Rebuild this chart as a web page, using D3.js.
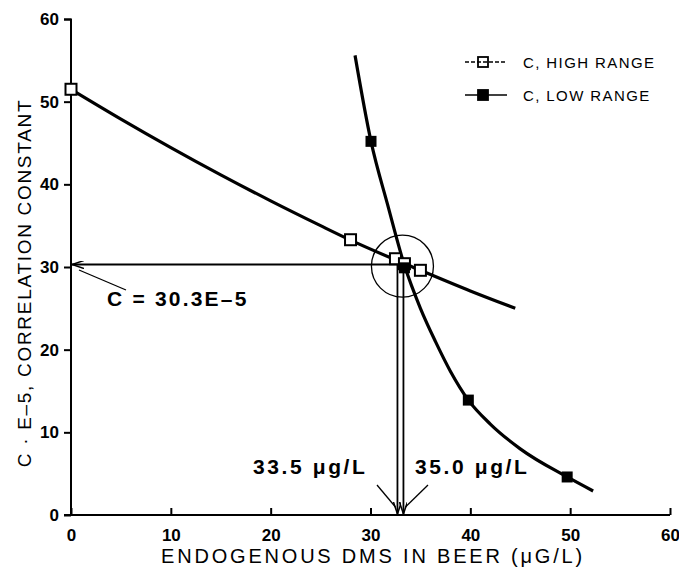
<!DOCTYPE html>
<html><head><meta charset="utf-8">
<script src="https://cdn.jsdelivr.net/npm/d3@7"></script>
<style>body{margin:0;background:#fff}svg{display:block}</style>
</head><body>
<svg id="c" width="679" height="577"></svg>
<script>
// ---- data ----
const xTicks = [0, 10, 20, 30, 40, 50, 60];
const yTicks = [0, 10, 20, 30, 40, 50, 60];
const highX = [0, 28, 32.5, 33.4, 35];
const highY = [51.5, 33.3, 31.0, 30.4, 29.6];
const lowX = [30.05, 33.4, 39.8, 49.7];
const lowY = [45.2, 29.9, 13.9, 4.6];
// fitted curves
const highFitX = [0, 5, 10, 15, 20, 25, 28, 35, 40, 44.5];
const highFitY = [51.5, 47.9, 44.45, 41.15, 38.0, 35.0, 33.25, 29.6, 27.1, 25.0];
const lowFitX = [28.45, 30.05, 31.7, 33.4, 35, 36.5, 38, 39.8, 42, 45, 49.7, 52.3];
const lowFitY = [55.6, 45.2, 37.6, 30.2, 25.0, 21.0, 17.4, 13.9, 11.0, 8.0, 4.6, 2.9];
const cValue = 30.3;
const arrowX = [32.7, 33.3];
const legendLabels = ["C, HIGH RANGE", "C, LOW RANGE"];

const font = "Liberation Sans, Arial, sans-serif";
const svg = d3.select("#c");
const x = d3.scaleLinear().domain([0, 60]).range([71, 670]);
const y = d3.scaleLinear().domain([0, 60]).range([515, 19]);

const defs = svg.append("defs");
defs.append("marker").attr("id", "ah").attr("viewBox", "0 0 12 8")
  .attr("refX", 12).attr("refY", 4).attr("markerWidth", 12).attr("markerHeight", 8)
  .attr("markerUnits", "userSpaceOnUse").attr("orient", "auto")
  .append("path").attr("d", "M0,0 L12,4 L0,8").attr("fill", "none").attr("stroke", "#000").attr("stroke-width", 1.5);

// axes
const xAxis = d3.axisBottom(x).tickValues(xTicks).tickSize(-7).tickPadding(14).tickFormat(d3.format("d"));
const yAxis = d3.axisLeft(y).tickValues(yTicks).tickSize(7).tickPadding(5).tickFormat(d3.format("d"));
const gx = svg.append("g").attr("transform", "translate(0,515)").call(xAxis);
const gy = svg.append("g").attr("transform", "translate(71,0)").call(yAxis);
[gx, gy].forEach(g => {
  g.select(".domain").attr("stroke-width", 2);
  g.selectAll(".tick line").attr("stroke-width", 2);
  g.selectAll("text").attr("font-family", font)
    .attr("font-weight", "bold").attr("font-size", 17).attr("fill", "#000");
});
gx.select(".domain").attr("d", "M64,0H670");
gy.select(".domain").attr("d", "M-7,19.5H0V515");

// axis titles
svg.append("text").attr("x", 373).attr("y", 563).attr("text-anchor", "middle")
  .attr("font-family", font).attr("font-size", 20)
  .attr("letter-spacing", 2.8).text("ENDOGENOUS DMS IN BEER (\u03BCG/L)");
svg.append("text").attr("transform", "translate(31,283) rotate(-90)").attr("text-anchor", "middle")
  .attr("font-family", font).attr("font-size", 19)
  .attr("letter-spacing", 1.7).text("C \u00B7 E\u20135, CORRELATION CONSTANT");

// curves
const line = d3.line().x(d => x(d[0])).y(d => y(d[1])).curve(d3.curveMonotoneX);
svg.append("path").attr("d", line(highFitX.map((v, i) => [v, highFitY[i]])))
  .attr("fill", "none").attr("stroke", "#000").attr("stroke-width", 3.2);
svg.append("path").attr("d", line(lowFitX.map((v, i) => [v, lowFitY[i]])))
  .attr("fill", "none").attr("stroke", "#000").attr("stroke-width", 3.2);

// circle
svg.append("circle").attr("cx", x(33.2)).attr("cy", y(30.1)).attr("r", 31)
  .attr("fill", "none").attr("stroke", "#000").attr("stroke-width", 1.3);

// horizontal arrow to y axis
svg.append("line").attr("x1", x(33.3)).attr("x2", x(0) + 1).attr("y1", y(cValue)).attr("y2", y(cValue))
  .attr("stroke", "#000").attr("stroke-width", 1.8).attr("marker-end", "url(#ah)");
// vertical arrows
arrowX.forEach(v => {
  svg.append("line").attr("x1", x(v)).attr("x2", x(v)).attr("y1", y(cValue)).attr("y2", y(0) - 1)
    .attr("stroke", "#000").attr("stroke-width", 1.8).attr("marker-end", "url(#ah)");
});

// markers
const sq = 11;
svg.append("g").selectAll("rect").data(highX.map((v, i) => [v, highY[i]])).join("rect")
  .attr("x", d => x(d[0]) - sq / 2).attr("y", d => y(d[1]) - sq / 2).attr("width", sq).attr("height", sq)
  .attr("fill", "#fff").attr("stroke", "#000").attr("stroke-width", 2);
svg.append("g").selectAll("rect").data(lowX.map((v, i) => [v, lowY[i]])).join("rect")
  .attr("x", d => x(d[0]) - sq / 2).attr("y", d => y(d[1]) - sq / 2).attr("width", sq).attr("height", sq)
  .attr("fill", "#000");

// annotations
svg.append("line").attr("x1", 79).attr("y1", 270).attr("x2", 126).attr("y2", 290).attr("stroke", "#000").attr("stroke-width", 1.3);
svg.append("text").attr("x", 107).attr("y", 306).attr("font-family", font).attr("font-weight", "bold")
  .attr("font-size", 21).attr("letter-spacing", 2.2).text("C = 30.3E\u20135");
svg.append("text").attr("x", 253).attr("y", 474).attr("font-family", font).attr("font-weight", "bold")
  .attr("font-size", 21).attr("letter-spacing", 2.6).text("33.5 \u03BCg/L");
svg.append("text").attr("x", 415).attr("y", 474).attr("font-family", font).attr("font-weight", "bold")
  .attr("font-size", 21).attr("letter-spacing", 2.6).text("35.0 \u03BCg/L");
svg.append("line").attr("x1", 377).attr("y1", 485).attr("x2", x(arrowX[0]) - 2).attr("y2", 507).attr("stroke", "#000").attr("stroke-width", 1.3);
svg.append("line").attr("x1", 428).attr("y1", 485).attr("x2", x(arrowX[1]) + 2).attr("y2", 507).attr("stroke", "#000").attr("stroke-width", 1.3);

// legend
const lg = svg.append("g");
legendLabels.forEach((t, i) => {
  const yy = 62 + i * 33;
  lg.append("line").attr("x1", 465).attr("x2", 507).attr("y1", yy).attr("y2", yy)
    .attr("stroke", "#000").attr("stroke-width", 1.3).attr("stroke-dasharray", i === 0 ? "4,2" : null);
  lg.append("rect").attr("x", 478).attr("y", yy - 5).attr("width", 10).attr("height", 10)
    .attr("fill", i === 0 ? "none" : "#000").attr("stroke", "#000").attr("stroke-width", 1.8);
  lg.append("text").attr("x", 523).attr("y", yy + 5.5).attr("font-family", font).attr("font-size", 15)
    .attr("letter-spacing", 1.4).text(t);
});
</script>
</body></html>
